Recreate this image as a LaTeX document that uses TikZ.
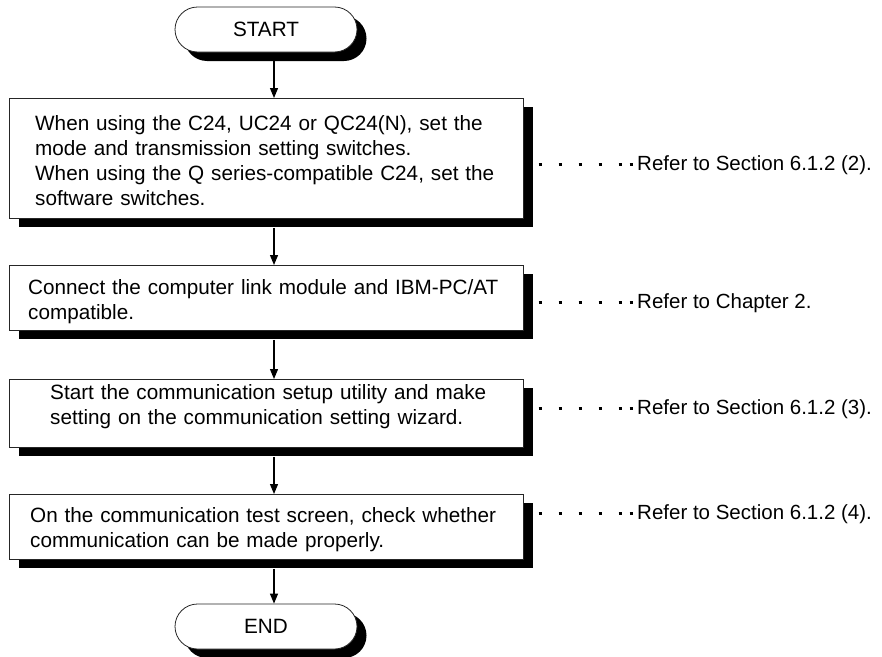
\documentclass[tikz,border=0pt]{standalone}
\usepackage{fontspec}
\setmainfont{Liberation Sans}
\usetikzlibrary{arrows.meta,shapes.misc,shadows}
\begin{document}
\begin{tikzpicture}[x=1pt,y=-1pt,
  sh/.style={drop shadow={shadow xshift=9.5pt,shadow yshift=-9pt,fill=black,opacity=1}},
  stepbox/.style={rectangle,draw=black!85,line width=0.8pt,fill=white,inner sep=0pt,anchor=north west,sh},
  term/.style={rounded rectangle,draw=black!85,line width=0.8pt,fill=white,inner sep=0pt,
    minimum width=182pt,minimum height=45pt,sh,font=\fontsize{20.7}{25}\selectfont},
  txt/.style={anchor=base west,inner sep=0pt,text width=500pt,align=left,font=\fontsize{20.7}{25}\selectfont},
  reftxt/.style={anchor=base west,inner sep=0pt,font=\fontsize{20.5}{25}\selectfont},
  arr/.style={line width=1.2pt,-{Triangle[length=10pt,width=8pt]}},
  leader/.style={line width=3pt,shorten >=3pt,
    dash pattern=on 3pt off 17pt on 3pt off 17pt on 3pt off 17pt on 3pt off 17pt on 3pt off 8pt on 3pt off 30pt}]
\useasboundingbox (0,0) rectangle (882,656);
\coordinate (ax) at (274,0);
% terminals
\node[term] (start) at (266,29.5) {START};
\node[term] (end) at (266,626.5) {END};
% boxes
\node[stepbox,minimum width=514pt,minimum height=120pt] (b1) at (9,98) {};
\node[stepbox,minimum width=514pt,minimum height=65pt] (b2) at (9,265) {};
\node[stepbox,minimum width=514pt,minimum height=68pt] (b3) at (9,379) {};
\node[stepbox,minimum width=514pt,minimum height=65pt] (b4) at (9,494) {};
% box texts
\node[txt] (t1) at (35,130) {When using the C24, UC24 or QC24(N), set the\\mode and transmission setting switches.\\When using the Q series-compatible C24, set the\\software switches.};
\node[txt] (t2) at (28,294) {Connect the computer link module and IBM-PC/AT\\compatible.};
\node[txt] (t3) at (50,399) {Start the communication setup utility and make\\setting on the communication setting wizard.};
\node[txt] (t4) at (30,522) {On the communication test screen, check whether\\communication can be made properly.};
% reference texts
\node[reftxt] (r1) at (637,170) {Refer to Section 6.1.2 (2).};
\node[reftxt] (r2) at (637,308) {Refer to Chapter 2.};
\node[reftxt] (r3) at (637,414) {Refer to Section 6.1.2 (3).};
\node[reftxt] (r4) at (637,519) {Refer to Section 6.1.2 (4).};
% leaders
\coordinate (l1) at (538.5,164);
\coordinate (l2) at (538.5,302);
\coordinate (l3) at (538.5,408);
\coordinate (l4) at (538.5,513);
\draw[leader] (l1) -- (l1 -| r1.west);
\draw[leader] (l2) -- (l2 -| r2.west);
\draw[leader] (l3) -- (l3 -| r3.west);
\draw[leader] (l4) -- (l4 -| r4.west);
% arrows
\draw[arr] ([yshift=-9pt]start.south -| ax) -- (b1.north -| ax);
\draw[arr] ([yshift=-9pt]b1.south -| ax) -- (b2.north -| ax);
\draw[arr] ([yshift=-9pt]b2.south -| ax) -- (b3.north -| ax);
\draw[arr] ([yshift=-9pt]b3.south -| ax) -- (b4.north -| ax);
\draw[arr] ([yshift=-9pt]b4.south -| ax) -- (end.north -| ax);
\end{tikzpicture}
\end{document}
